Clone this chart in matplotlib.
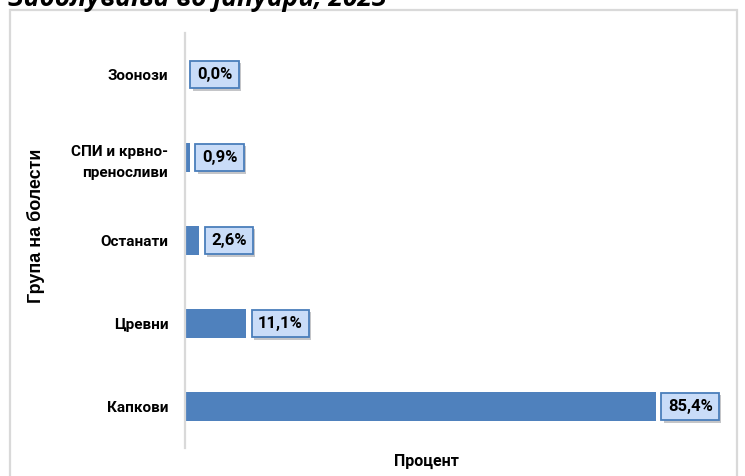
import matplotlib.pyplot as plt
import matplotlib.patheffects as pe
from matplotlib.patches import Rectangle

# disease groups, bottom to top as drawn
categories = ['Капкови', 'Цревни', 'Останати', 'СПИ и крвно-\nпреносливи', 'Зоонози']
values = [85.4, 11.1, 2.6, 0.9, 0.0]

title = 'Заболувања во јануари, 2023'
x_label = 'Процент'
y_label = 'Група на болести'

NARROW = ['Roboto', 'DejaVu Sans']
BAR_COLOR = '#4f81bd'

fig = plt.figure(figsize=(7.45, 4.76), dpi=100)
W, H = 745, 476

# outer chart frame (light gray), bottom edge is cut off in the original
fig.patches.append(Rectangle((10 / W, -0.05), 727 / W, 1.05 - 10 / H, transform=fig.transFigure,
                             fill=False, edgecolor='#d9d9d9', lw=1.6))

# title, mostly cropped off the top like in the source image
fig.text(8 / W, 1 - 6 / H, title, fontsize=19, fontweight='bold', fontstyle='italic',
         family=['Open Sans', 'DejaVu Sans'], va='baseline', ha='left')

ax = fig.add_axes([185 / W, 1 - 448 / H, 551.5 / W, 415 / H])
ypos = range(len(categories))
ax.barh(ypos, values, height=0.35, color=BAR_COLOR)
ax.set_xlim(0, 100)
ax.set_ylim(-0.5, len(categories) - 0.5)

for s in ['top', 'right', 'bottom']:
    ax.spines[s].set_visible(False)
ax.spines['left'].set_color('#d9d9d9')
ax.spines['left'].set_linewidth(1.6)
ax.set_xticks([])
ax.set_yticks(list(ypos))
ax.set_yticklabels(categories, family=NARROW, fontsize=11, fontweight='bold', linespacing=1.6)
ax.tick_params(axis='y', length=0, pad=12)

for y, v in zip(ypos, values):
    t = ax.annotate(f'{v:.1f}%'.replace('.', ','), xy=(v, y), xytext=(8.5, 0),
                    textcoords='offset points', va='center', ha='left',
                    family=NARROW, fontsize=12, fontweight='bold',
                    bbox=dict(boxstyle='square,pad=0.38', facecolor='#c9dcf8',
                              edgecolor='#4a7ebb', lw=1.3))
    t.get_bbox_patch().set_path_effects([pe.SimplePatchShadow(offset=(1.5, -2), alpha=0.3),
                                         pe.Normal()])

fig.text(426 / W, 1 - 461 / H, x_label, family=NARROW, fontsize=11.5, fontweight='bold',
         ha='center', va='center')
fig.text(36 / W, 1 - 226 / H, y_label, family=['Liberation Sans', 'DejaVu Sans'],
         fontsize=13, fontweight='bold', rotation=90, ha='center', va='center')

fig.savefig('out.png', dpi=100)
